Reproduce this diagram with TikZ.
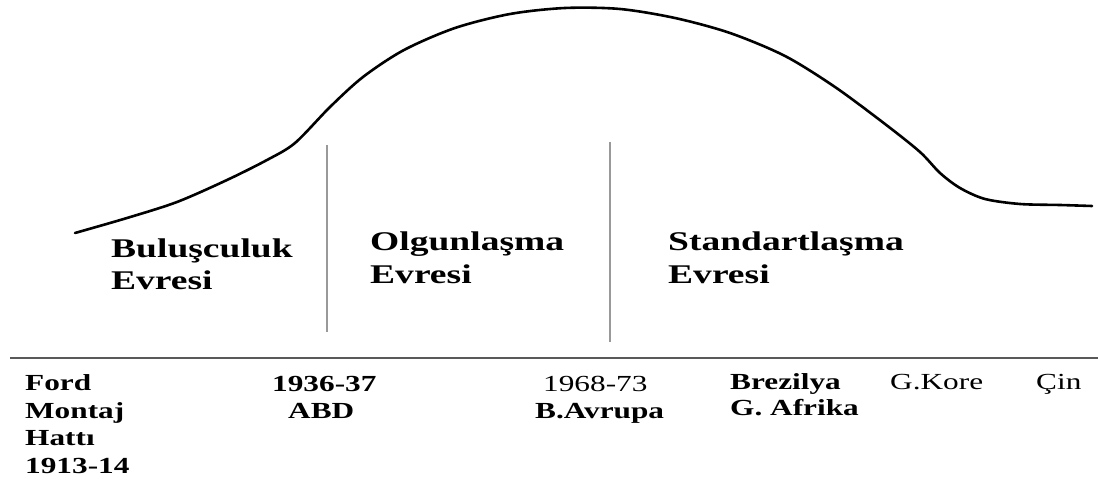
\documentclass[tikz,border=0pt]{standalone}
\usepackage{fontspec}
\setmainfont{Liberation Serif}
\usepackage{graphicx}
\newcommand{\sx}[1]{\scalebox{1.36}[1]{#1}}
\newcommand{\sy}[1]{\scalebox{1.39}[1]{#1}}
\tikzset{
  phase/.style={anchor=base west, inner sep=0pt, font=\fontsize{27}{32}\selectfont\bfseries},
  lbl/.style={anchor=base west, inner sep=0pt, font=\fontsize{23}{27}\selectfont\bfseries},
  lblr/.style={anchor=base west, inner sep=0pt, font=\fontsize{23}{27}\selectfont},
  curve/.style={line width=2.6pt, black, line cap=round, line join=round},
  divider/.style={line width=1.2pt, gray!80},
  axis/.style={line width=2.6pt, black!65}
}
\begin{document}
\begin{tikzpicture}[x=1pt, y=-1pt]
\useasboundingbox[fill=white] (0,0) rectangle (1098,486);
% curve
\draw[curve] plot[smooth, tension=0.5] coordinates {
 (75,233) (127,218) (177,202) (227,180) (267,160) (295,143) (330,107) (363,77)
 (404,50) (455,28) (510,14) (565,8) (620,9) (675,18) (730,33) (785,56)
 (835,87) (885,124) (920,152) (940,173) (960,188) (985,199) (1020,204)
 (1060,205) (1092,206)};
% dividers
\coordinate (d1t) at (327,145); \coordinate (d1b) at (327,332);
\coordinate (d2t) at (610,142); \coordinate (d2b) at (610,342);
\draw[divider] (d1t) -- (d1b);
\draw[divider] (d2t) -- (d2b);
% axis
\coordinate (al) at (10,358); \coordinate (ar) at (1098,358);
\draw[axis] (al) -- (ar);
% phase labels
\node[phase] (p1a) at (111,258) {\sy{Buluşculuk}};
\node[phase] (p1b) at (111,290) {\sy{Evresi}};
\node[phase] (p2a) at (370,251) {\sy{Olgunlaşma}};
\node[phase] (p2b) at (370,284) {\sy{Evresi}};
\node[phase] (p3a) at (668,251) {\sy{Standartlaşma}};
\node[phase] (p3b) at (668,284) {\sy{Evresi}};
% bottom labels
\node[lbl] (f1) at (25,390) {\sx{Ford}};
\node[lbl] (f2) at (25,418) {\sx{Montaj}};
\node[lbl] (f3) at (25,445) {\sx{Hattı}};
\node[lbl] (f4) at (25,473) {\sx{1913-14}};
\node[lbl] (a1) at (272,391) {\sx{1936-37}};
\node[lbl] (a2) at (288,418) {\sx{ABD}};
\node[lblr] (b1) at (543,391) {\sx{1968-73}};
\node[lbl] (b2) at (535,418) {\sx{B.Avrupa}};
\node[lbl] (c1) at (730,389) {\sx{Brezilya}};
\node[lbl] (c2) at (730,415) {\sx{G. Afrika}};
\node[lblr] (k1) at (890,389) {\sx{G.Kore}};
\node[lblr] (z1) at (1036,389) {\sx{Çin}};
\end{tikzpicture}
\end{document}
